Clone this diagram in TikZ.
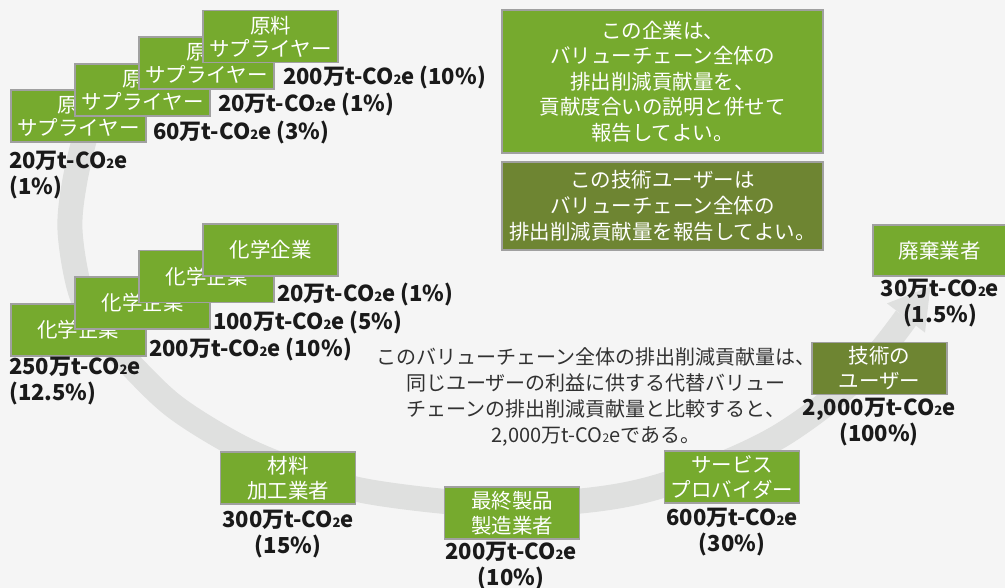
\documentclass[tikz,border=0pt]{standalone}
\usepackage{fontspec}
\setmainfont{Noto Sans CJK JP}
\definecolor{bgc}{HTML}{F5F5F5}
\definecolor{bandc}{HTML}{DFE0DF}
\definecolor{gfill}{HTML}{76AA2E}
\definecolor{ofill}{HTML}{6E8532}
\definecolor{boxline}{HTML}{A0A0A0}
\definecolor{txt}{HTML}{1A1A1A}
\newcommand{\subtwo}{{\fontsize{13}{13}\selectfont 2}}
\newcommand{\cotwo}{t-CO\subtwo e}
\begin{document}
\begin{tikzpicture}[x=1pt,y=-1pt,
  gbox/.style={draw=boxline, line width=1.2pt, fill=gfill, text=white,
    minimum width=135pt, minimum height=52pt, inner sep=0pt, align=center,
    font=\fontsize{20.5}{23}\selectfont},
  obox/.style={gbox, fill=ofill},
  val/.style={font=\fontsize{22}{26}\selectfont\bfseries, text=txt, inner sep=0pt},
  note/.style={font=\fontsize{20}{26}\selectfont, text=txt!90, inner sep=0pt, align=center},
  band/.style={draw=bandc, line width=25pt}
]
\fill[bgc] (0,0) rectangle (1005,588);
\useasboundingbox (0,0) rectangle (1005,588);

% big grey arc arrow
\coordinate (bs) at (88,125);
\coordinate (be) at (906,318);
\draw[band] plot[smooth, tension=0.55] coordinates {(bs) (75,180) (70,230) (80,290) (100,330) (128,362) (175,407) (240,447) (300,472) (360,490) (440,501) (510,505) (590,500) (650,489) (720,465) (780,436) (837,395) (878,354) (be)};
\coordinate (hl) at (887,303.4);
\coordinate (hr) at (925,332.6);
\coordinate (ht) at (930.4,286.4);
\fill[bandc] (hl) -- (ht) -- (hr) -- cycle;

% raw material suppliers
\node[gbox] (sd) at (78.5,116) {原料\\サプライヤー};
\node[gbox] (sc) at (142.5,90) {原料\\サプライヤー};
\node[gbox] (sb) at (206.5,63) {原料\\サプライヤー};
\node[gbox] (sa) at (270.5,36.5) {原料\\サプライヤー};
\node[val, anchor=west] (la) at (283,78) {200万\cotwo\ (10\%)};
\node[val, anchor=west] (lb) at (218,105) {20万\cotwo\ (1\%)};
\node[val, anchor=west] (lc) at (153,133) {60万\cotwo\ (3\%)};
\node[val, anchor=west, align=left] (ld) at (9,175) {20万\cotwo\\(1\%)};

% chemical companies
\node[gbox] (ch) at (78.5,330) {化学企業};
\node[gbox] (cg) at (142.5,303) {化学企業};
\node[gbox] (cf) at (206.5,276.5) {化学企業};
\node[gbox] (ce) at (270.5,250) {化学企業};
\node[val, anchor=west] (le) at (277,295) {20万\cotwo\ (1\%)};
\node[val, anchor=west] (lf) at (213,323) {100万\cotwo\ (5\%)};
\node[val, anchor=west] (lg) at (149,350) {200万\cotwo\ (10\%)};
\node[val, anchor=west, align=left] (lh) at (9,381) {250万\cotwo\\(12.5\%)};

% info boxes
\node[gbox, minimum width=321pt, minimum height=143pt, font=\fontsize{20.5}{25.5}\selectfont] (ib) at (662.5,81.5)
  {この企業は、\\バリューチェーン全体の\\排出削減貢献量を、\\貢献度合いの説明と併せて\\報告してよい。};
\node[obox, minimum width=321pt, minimum height=88pt, font=\fontsize{20.5}{26}\selectfont] (jb) at (662.5,206)
  {この技術ユーザーは\\バリューチェーン全体の\\排出削減貢献量を報告してよい。};

% middle note
\node[note] (nt) at (596,397) {このバリューチェーン全体の排出削減貢献量は、\\同じユーザーの利益に供する代替バリュー\\チェーンの排出削減貢献量と比較すると、\\2,000万t-CO{\fontsize{12}{12}\selectfont 2}eである。};

% lower chain
\node[gbox, font=\fontsize{20.5}{25}\selectfont] (mp) at (288,478) {材料\\加工業者};
\node[val, align=center] (lmp) at (288,534) {300万\cotwo\\(15\%)};
\node[gbox, font=\fontsize{20.5}{25}\selectfont] (fm) at (512,513) {最終製品\\製造業者};
\node[val, align=center] (lfm) at (511,566) {200万\cotwo\\(10\%)};
\node[gbox, font=\fontsize{20.5}{25}\selectfont] (sp) at (732,477) {サービス\\プロバイダー};
\node[val, align=center] (lsp) at (732,532) {600万\cotwo\\(30\%)};
\node[obox, font=\fontsize{20.5}{25}\selectfont] (tu) at (879.5,368.5) {技術の\\ユーザー};
\node[val, align=center] (ltu) at (879,422) {2,000万\cotwo\\(100\%)};
\node[gbox, minimum width=133pt, minimum height=51pt] (wd) at (939.5,250.5) {廃棄業者};
\node[val, align=center] (lwd) at (940,303) {30万\cotwo\\(1.5\%)};
\end{tikzpicture}
\end{document}
